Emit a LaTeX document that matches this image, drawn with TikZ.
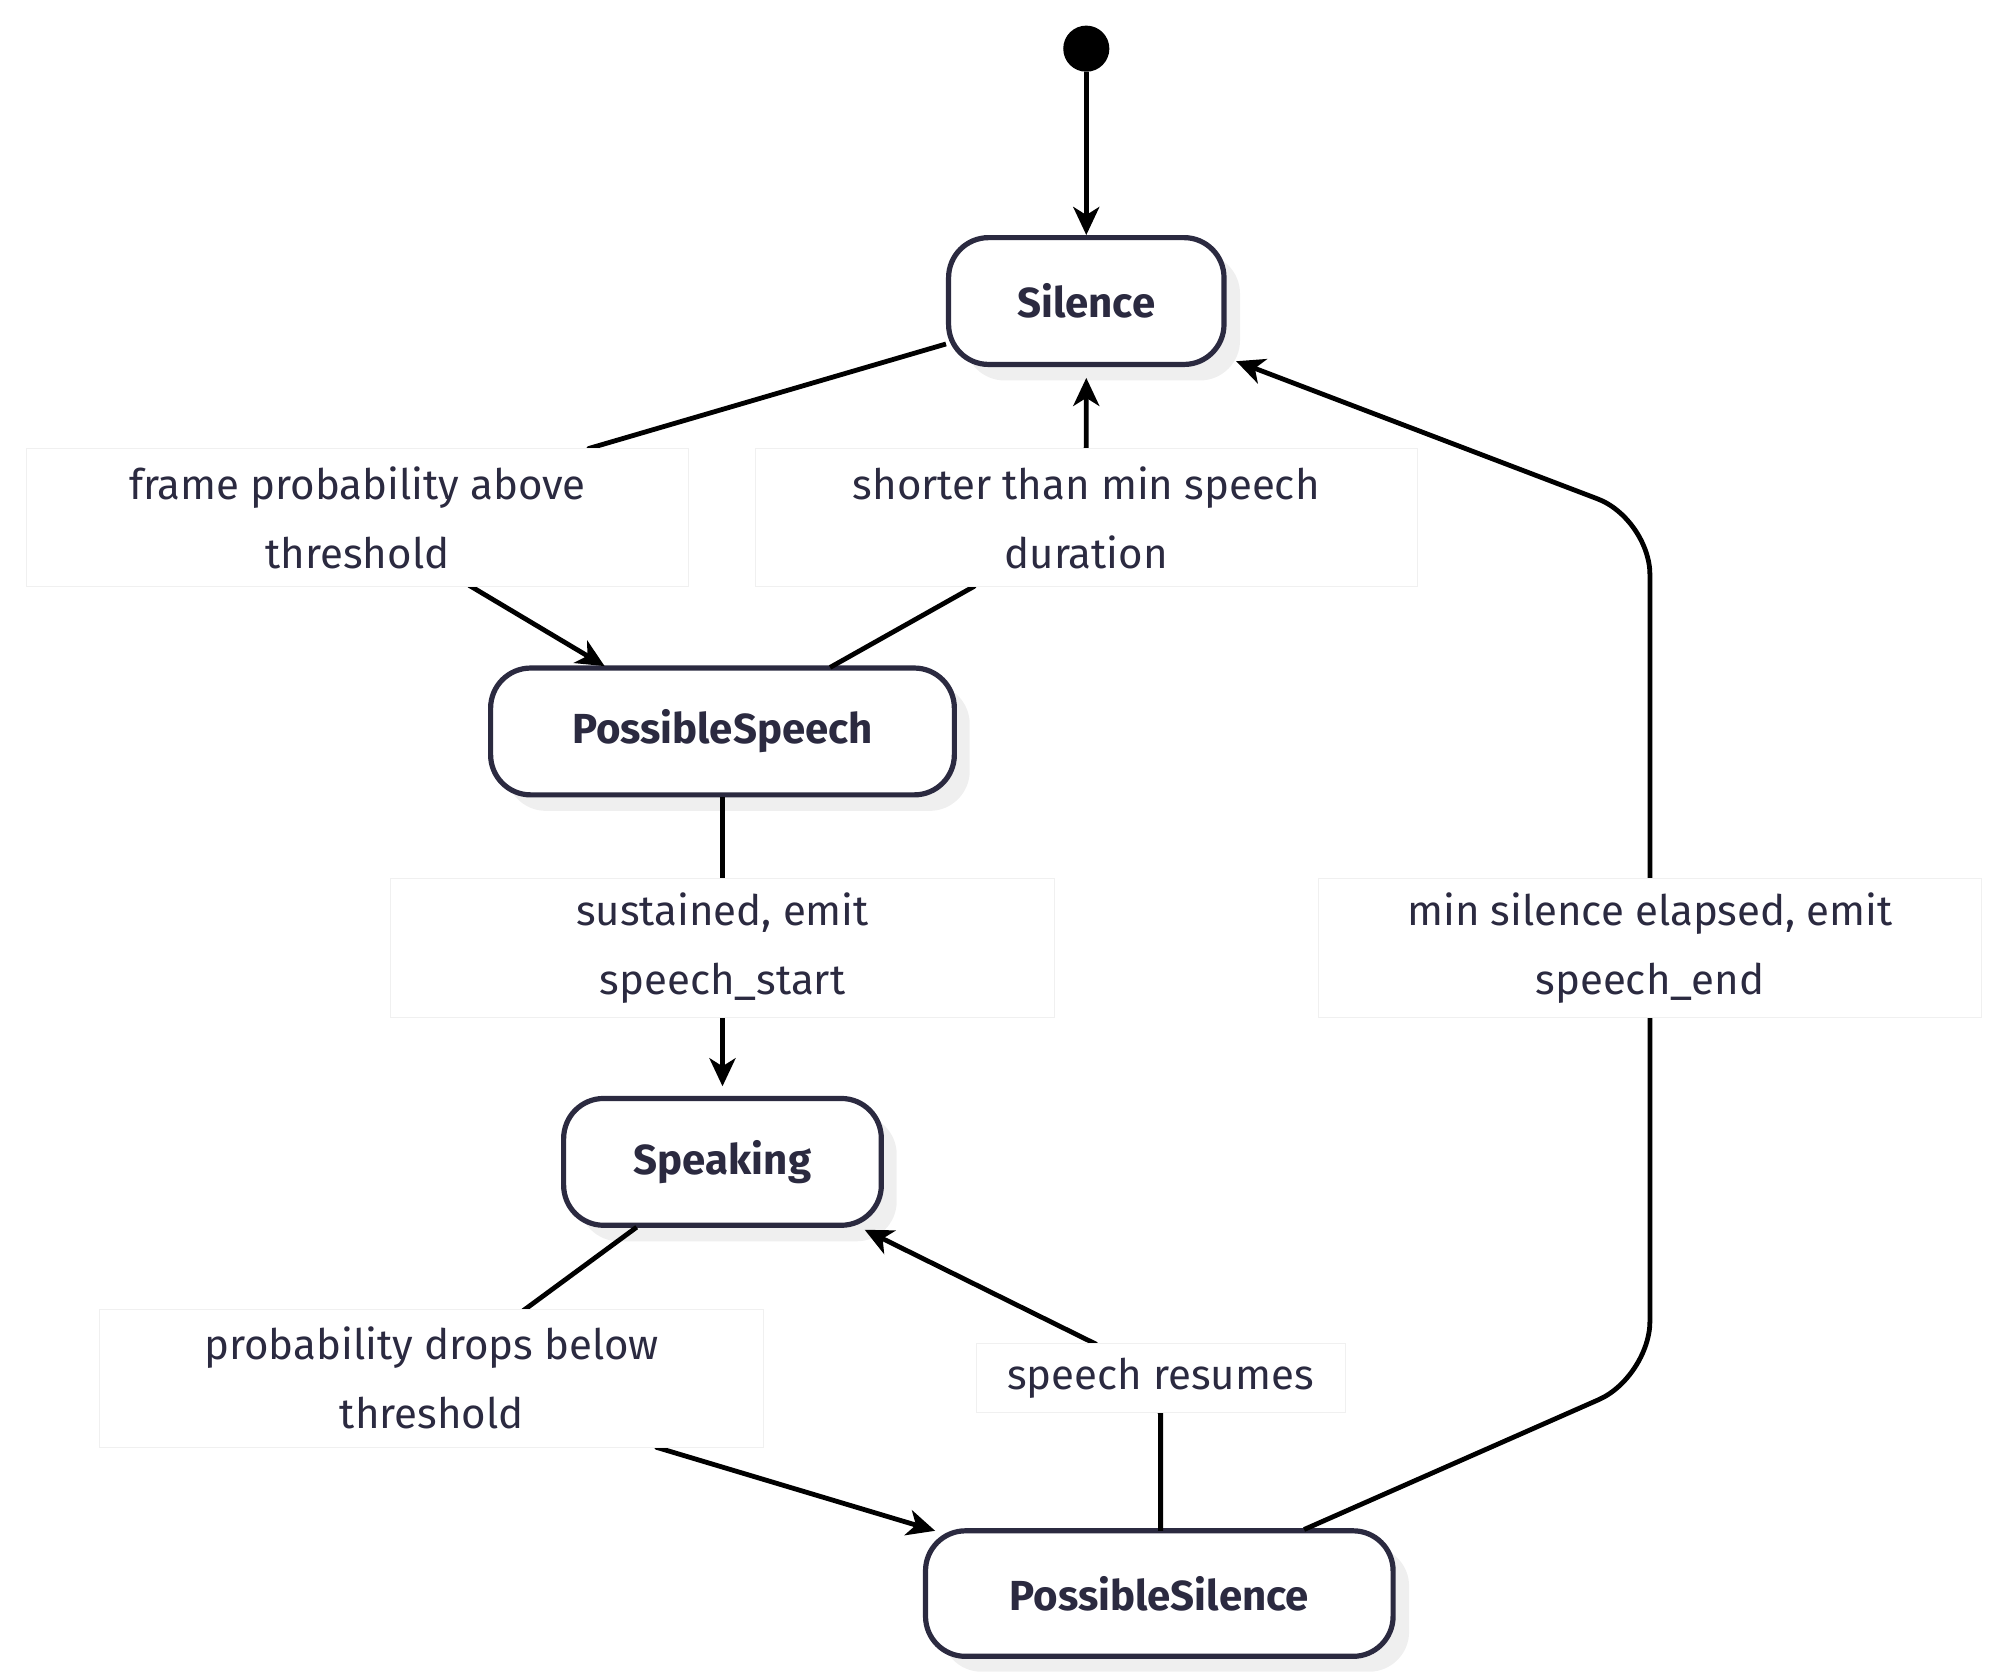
\documentclass[tikz,border=0pt]{standalone}
\usepackage{fontspec}
\setmainfont{Fira Sans}
\usetikzlibrary{arrows.meta}
\definecolor{ink}{HTML}{2B2A40}
\definecolor{shad}{HTML}{EFEFEF}
\begin{document}
\begin{tikzpicture}[x=0.6405pt,y=-0.6405pt,
  st/.style={draw=ink,line width=2.6pt,rounded corners=20pt,fill=white,text=ink,font=\fontsize{21}{25}\selectfont\bfseries,inner sep=0pt},
  lb/.style={draw=black!6,line width=0.5pt,fill=white,text=ink,font=\fontsize{21}{34.5}\selectfont,inner sep=0pt,align=center},
  ed/.style={line width=2.4pt,black,-{Stealth[length=14pt,width=13pt,inset=4pt]}},
  edn/.style={line width=2.4pt,black}]
\useasboundingbox (0,0) rectangle (1560.5,1308.4);
% shadows
\foreach \a/\b/\c/\d in {741/186/956/285,383/522/745/621,440/858/688/957,723/1195/1088/1293}
  \fill[shad,rounded corners=20pt] (\a+12,\b+12) rectangle (\c+12,\d+12);
% states
\node[st,minimum width=215*0.6405pt,minimum height=99*0.6405pt] (sil) at (848,235) {Silence};
\node[st,minimum width=362*0.6405pt,minimum height=99*0.6405pt] (ps) at (564,571) {PossibleSpeech};
\node[st,minimum width=248*0.6405pt,minimum height=99*0.6405pt] (spk) at (564,907) {Speaking};
\node[st,minimum width=365*0.6405pt,minimum height=98*0.6405pt] (psil) at (905,1244) {PossibleSilence};
\fill[black] (848,38) circle (18*0.6405pt);
\coordinate (init) at (848,56);
% edges
\draw[ed] (init) -- (sil.north);
\draw[ed] (sil.south west)++(0,-18) -- (460,350) -- (368,458) -- (472,520);
\draw[ed] (648,521) -- (760,458) -- (848,350) -- (848,295);
\draw[ed] (ps.south) -- (564,848);
\draw[ed] (497,958) -- (410,1022) -- (513,1130) -- (730,1195);
\draw[ed] (906,1195) -- (906,1103) -- (855,1049) -- (675,960);
\draw[ed,rounded corners=28pt] (1018,1194) -- (1288,1075) -- (1288,405) -- (965,282);
% labels
\node[lb,minimum width=517*0.6405pt,minimum height=108*0.6405pt] (l1) at (279,404) {frame probability above\\threshold};
\node[lb,minimum width=517*0.6405pt,minimum height=108*0.6405pt] (l2) at (848,404) {shorter than min speech\\duration};
\node[lb,minimum width=518*0.6405pt,minimum height=109*0.6405pt] (l3) at (564,740) {sustained, emit\\speech\_start};
\node[lb,minimum width=517*0.6405pt,minimum height=109*0.6405pt] (l4) at (1288,740) {min silence elapsed, emit\\speech\_end};
\node[lb,minimum width=518*0.6405pt,minimum height=108*0.6405pt] (l5) at (337,1076) {probability drops below\\threshold};
\node[lb,minimum width=288*0.6405pt,minimum height=54*0.6405pt] (l6) at (906,1076) {speech resumes};
\end{tikzpicture}
\end{document}
